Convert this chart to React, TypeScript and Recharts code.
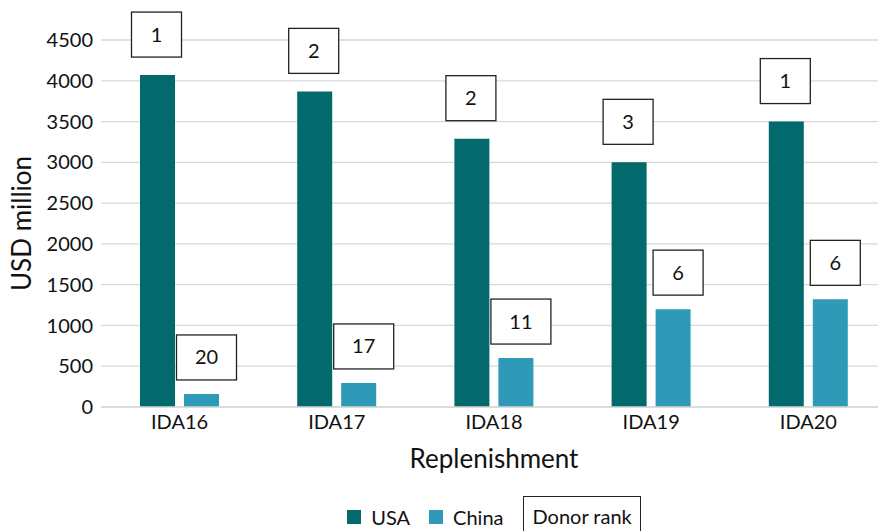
import { BarChart, Bar, XAxis, YAxis, CartesianGrid, Legend, LabelList } from "recharts";

const replenishments = ["IDA16", "IDA17", "IDA18", "IDA19", "IDA20"];
const usaValues = [4070, 3870, 3290, 3000, 3500];
const chinaValues = [160, 295, 600, 1200, 1320];
const usaRanks = [1, 2, 2, 3, 1];
const chinaRanks = [20, 17, 11, 6, 6];
const yTicks = [0, 500, 1000, 1500, 2000, 2500, 3000, 3500, 4000, 4500];

const data = replenishments.map((name, i) => ({
  name,
  usa: usaValues[i],
  china: chinaValues[i],
  usaRank: usaRanks[i],
  chinaRank: chinaRanks[i],
}));

const FONT = "Lato, 'Noto Sans', sans-serif";
const USA_COLOR = "#02696c";
const CHINA_COLOR = "#2f99b8";

const rankBox = (gap: number, dx: number) => (props: any) => {
  const { x, y, width, value } = props;
  const txt = String(value);
  const w = txt.length > 1 ? 60 : 50;
  const h = 45;
  const cx = Number(x) + Number(width) / 2 + dx;
  const bottom = Number(y) - gap;
  return (
    <g>
      <rect x={cx - w / 2} y={bottom - h} width={w} height={h} fill="#fff" stroke="#222" strokeWidth={1.3} />
      <text x={cx} y={bottom - h / 2 + 7} textAnchor="middle" fontSize={20} fontFamily={FONT} fill="#111">
        {txt}
      </text>
    </g>
  );
};

const LegendContent = () => (
  <div
    style={{
      display: "flex",
      justifyContent: "center",
      alignItems: "flex-start",
      paddingLeft: 101,
      boxSizing: "border-box",
      height: 40,
      fontFamily: FONT,
      fontSize: 20,
      color: "#111",
    }}
  >
    <div style={{ display: "flex", alignItems: "center", marginTop: 16 }}>
      <span style={{ width: 14, height: 14, background: USA_COLOR, display: "inline-block", marginRight: 10 }} />
      <span style={{ lineHeight: "20px" }}>USA</span>
      <span style={{ width: 14, height: 14, background: CHINA_COLOR, display: "inline-block", marginLeft: 19, marginRight: 10 }} />
      <span style={{ lineHeight: "20px" }}>China</span>
    </div>
    <div
      style={{
        marginLeft: 20,
        marginTop: 5,
        border: "1.3px solid #222",
        padding: "9px 8px 12px 8px",
        lineHeight: "20px",
      }}
    >
      Donor rank
    </div>
  </div>
);

export default function App() {
  return (
    <div style={{ position: "absolute", left: 0, top: 0, width: 878, height: 531, overflow: "hidden", background: "#fff" }}>
      <BarChart
        width={887}
        height={531}
        data={data}
        margin={{ top: 40, right: 0, bottom: 0, left: 0 }}
        barSize={35}
        barGap={9}
      >
        <CartesianGrid vertical={false} stroke="#d9d9d9" strokeWidth={1.3} />
        <XAxis
          dataKey="name"
          height={84}
          axisLine={{ stroke: "#d9d9d9", strokeWidth: 1.3 }}
          tickLine={false}
          tick={{ fontSize: 20, fontFamily: FONT, fill: "#111" }}
          label={{ value: "Replenishment", position: "insideBottom", offset: 23, fontSize: 26, fontFamily: FONT, fill: "#111" }}
        />
        <YAxis
          width={101}
          domain={[0, 4500]}
          ticks={yTicks}
          axisLine={false}
          tickLine={false}
          tick={{ fontSize: 20, fontFamily: FONT, fill: "#111" }}
          label={{ value: "USD million", angle: -90, position: "insideLeft", offset: 22, fontSize: 26, fontFamily: FONT, fill: "#111", style: { textAnchor: "middle" } }}
        />
        <Legend verticalAlign="bottom" height={40} content={<LegendContent />} />
        <Bar dataKey="usa" name="USA" fill={USA_COLOR} isAnimationActive={false}>
          <LabelList dataKey="usaRank" content={rankBox(18, -1)} />
        </Bar>
        <Bar dataKey="china" name="China" fill={CHINA_COLOR} isAnimationActive={false}>
          <LabelList dataKey="chinaRank" content={rankBox(14, 5)} />
        </Bar>
      </BarChart>
    </div>
  );
}
